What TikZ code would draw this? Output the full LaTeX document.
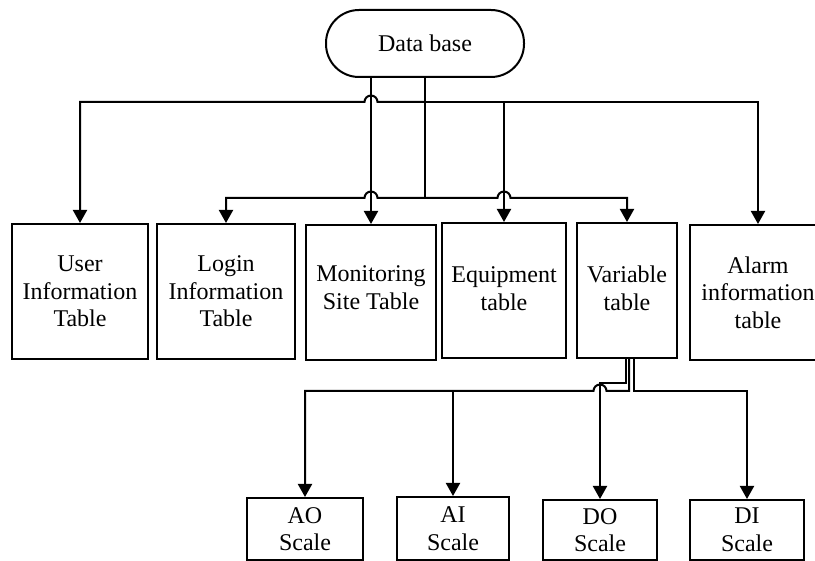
\documentclass[tikz,border=0pt]{standalone}
\usepackage{fontspec}
\setmainfont{Liberation Serif}
\usetikzlibrary{arrows.meta}
\begin{document}
\begin{tikzpicture}[x=1pt,y=1pt,
  box/.style={draw, line width=2pt, inner sep=0pt, align=center,
    font=\fontsize{24}{27.5}\selectfont},
  txt/.style={align=center, inner sep=0pt, font=\fontsize{24}{27.5}\selectfont},
  ln/.style={line width=2pt},
  arr/.style={line width=2pt, -{Triangle[width=14pt,length=13pt]}}]
\useasboundingbox (0,0) rectangle (815,-561);
\clip (0,0) rectangle (815,-561);

% nodes
\node[box, rounded corners=33pt, minimum width=198pt, minimum height=67pt] (db) at (425,-43.5) {Data base};
\node[box, minimum width=136pt, minimum height=135pt] (user) at (80,-291.5) {User\\Information\\Table};
\node[box, minimum width=138pt, minimum height=135pt] (login) at (226,-291.5) {Login\\Information\\Table};
\node[box, minimum width=130pt, minimum height=135pt,
  label={[txt, yshift=5pt]center:Monitoring\\Site Table}] (mon) at (371,-292.5) {};
\node[box, minimum width=124pt, minimum height=135pt,
  label={[txt, yshift=2pt]center:Equipment\\table}] (equip) at (504,-290.5) {};
\node[box, minimum width=100pt, minimum height=135pt,
  label={[txt, yshift=2pt]center:Variable\\table}] (var) at (627,-290.5) {};
\node[box, minimum width=136pt, minimum height=135pt] (alarm) at (758,-292.5) {Alarm\\information\\table};

\node[box, minimum width=116pt, minimum height=62pt] (ao) at (305,-529) {AO\\Scale};
\node[box, minimum width=112pt, minimum height=63pt] (ai) at (453,-528.5) {AI\\Scale};
\node[box, minimum width=114pt, minimum height=60pt] (do) at (600,-530) {DO\\Scale};
\node[box, minimum width=114pt, minimum height=60pt] (di) at (747,-530) {DI\\Scale};

% junction coordinates
\coordinate (j1) at (425,-102);
\coordinate (j2) at (425,-198);
\coordinate (j1e) at (504,-102);
\coordinate (k1) at (626,-383);
\coordinate (k2) at (629,-391);
\coordinate (k2i) at (453,-391);
\coordinate (k3) at (634,-391);

% database connectors
\draw[arr] (db.south -| mon.north) -- (mon.north);
\draw[ln] (db.south) -- (j2);
\draw[arr] (j1) -- (377.5,-102) arc[start angle=0,end angle=180,radius=6.5]
   -- (user.north |- j1) -- (user.north);
\draw[arr] (j1) -| (alarm.north);
\draw[arr] (j1e) -- (equip.north);
\draw[arr] (j2) -- (377.5,-198) arc[start angle=0,end angle=180,radius=6.5]
   -- (login.north |- j2) -- (login.north);
\draw[arr] (j2) -- (497.5,-198) arc[start angle=180,end angle=0,radius=6.5]
   -- (var.north |- j2) -- (var.north);

% variable table connectors
\draw[arr] (var.south -| k1) -- (k1) -- (do.north |- k1) -- (do.north);
\draw[arr] (var.south -| k2) -- (k2) -- (606.5,-391) arc[start angle=0,end angle=180,radius=6.5]
   -- (ao.north |- k2) -- (ao.north);
\draw[arr] (k2i) -- (ai.north);
\draw[arr] (var.south -| k3) -- (k3) -| (di.north);
\end{tikzpicture}
\end{document}
